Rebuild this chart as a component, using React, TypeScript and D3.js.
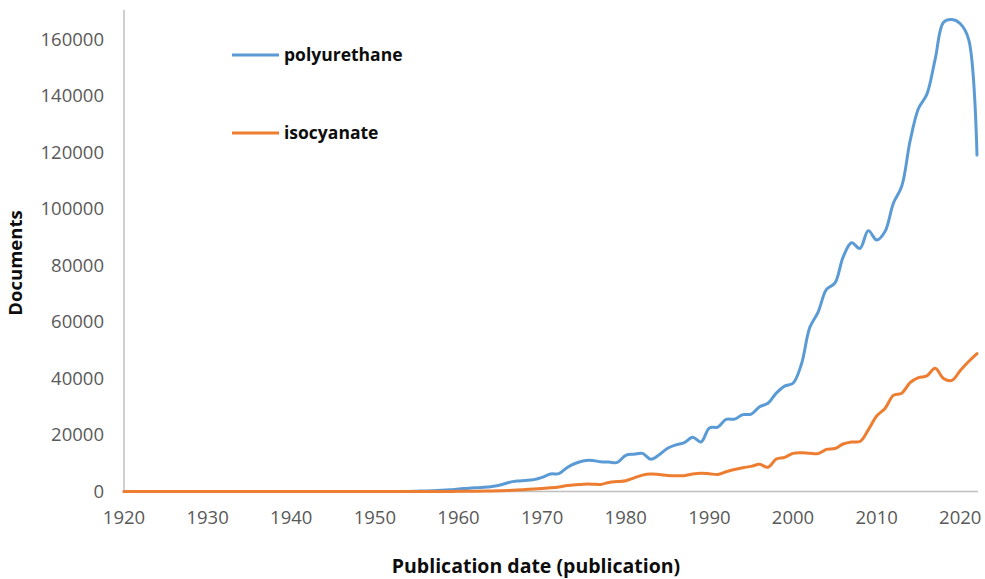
import { useEffect, useRef } from "react";
import * as d3 from "d3";

const years = d3.range(1920, 2023);

// documents per year, 1920..2022
const polyurethane = [
  ...new Array(35).fill(0), // 1920-1954
  100, 200, 300, 400, 600, // 1955-1959
  900, 1100, 1300, 1500, 1800, 2300, 3200, 3700, 3900, 4200, // 1960s
  5000, 6200, 6300, 8500, 10000, 10900, 11000, 10500, 10400, 10300, // 1970s
  12800, 13200, 13500, 11400, 13000, 15300, 16500, 17300, 19200, 17500, // 1980s
  22500, 22800, 25500, 25600, 27200, 27400, 30000, 31200, 34800, 37300, // 1990s
  38300, 45000, 58000, 63500, 71500, 73700, 83000, 88000, 86000, 92300, // 2000s
  89000, 92000, 102000, 108000, 124000, 135500, 140500, 153000, 166000, 167000, // 2010s
  165500, 160000, 119000, // 2020-2022
];

const isocyanate = [
  ...new Array(40).fill(0), // 1920-1959
  50, 80, 100, 150, 200, 250, 350, 500, 700, 900, // 1960s
  1100, 1300, 1600, 2100, 2400, 2600, 2600, 2500, 3200, 3500, // 1970s
  3800, 4800, 5800, 6200, 6000, 5700, 5600, 5600, 6200, 6500, // 1980s
  6300, 6000, 7000, 7800, 8400, 8900, 9600, 8600, 11500, 12100, // 1990s
  13500, 13700, 13500, 13400, 14900, 15200, 16800, 17500, 17700, 21800, // 2000s
  26700, 29400, 34000, 34800, 38500, 40300, 40900, 43600, 40000, 39300, // 2010s
  42800, 46000, 48800, // 2020-2022
];

const seriesNames = ["polyurethane", "isocyanate"];
const seriesColors = ["#5b9bd5", "#ed7d31"];
const xTicks = d3.range(1920, 2021, 10);
const yTicks = d3.range(0, 160001, 20000);

export default function App() {
  const svgRef = useRef<SVGSVGElement | null>(null);

  useEffect(() => {
    if (!svgRef.current) return;
    const svg = d3.select(svgRef.current);
    svg.selectAll("*").remove();

    const font = "'Open Sans', sans-serif";
    const x = d3.scaleLinear().domain([1920, 2022]).range([124, 977]);
    const y = d3.scaleLinear().domain([0, 160000]).range([491.5, 39.3]);

    // axis lines
    svg.append("line")
      .attr("x1", 124).attr("x2", 124)
      .attr("y1", 10).attr("y2", y(0))
      .attr("stroke", "#bfbfbf").attr("stroke-width", 1.5);
    svg.append("line")
      .attr("x1", 124).attr("x2", 978)
      .attr("y1", y(0)).attr("y2", y(0))
      .attr("stroke", "#bfbfbf").attr("stroke-width", 1.5);

    svg.append("g")
      .selectAll("text")
      .data(yTicks)
      .join("text")
      .attr("x", 104)
      .attr("y", (d) => y(d))
      .attr("dy", "0.35em")
      .attr("text-anchor", "end")
      .attr("font-family", font)
      .attr("font-size", 18.5)
      .attr("fill", "#595959")
      .text((d) => d);

    svg.append("g")
      .selectAll("text")
      .data(xTicks)
      .join("text")
      .attr("x", (d) => x(d))
      .attr("y", 518)
      .attr("dy", "0.35em")
      .attr("text-anchor", "middle")
      .attr("font-family", font)
      .attr("font-size", 18.5)
      .attr("fill", "#595959")
      .text((d) => d);

    const line = d3.line<number>()
      .x((_, i) => x(years[i]))
      .y((d) => y(d))
      .curve(d3.curveCatmullRom.alpha(0.5));

    [polyurethane, isocyanate].forEach((values, i) => {
      svg.append("path")
        .attr("d", line(values))
        .attr("fill", "none")
        .attr("stroke", seriesColors[i])
        .attr("stroke-width", 3)
        .attr("stroke-linejoin", "round")
        .attr("stroke-linecap", "round");
    });

    // legend
    const legendY = [55, 133];
    seriesNames.forEach((name, i) => {
      svg.append("line")
        .attr("x1", 232).attr("x2", 279)
        .attr("y1", legendY[i]).attr("y2", legendY[i])
        .attr("stroke", seriesColors[i])
        .attr("stroke-width", 3);
      svg.append("text")
        .attr("x", 284)
        .attr("y", legendY[i])
        .attr("dy", "0.35em")
        .attr("font-family", font)
        .attr("font-weight", "bold")
        .attr("font-size", 17.5)
        .attr("fill", "#0d0d0d")
        .text(name);
    });

    svg.append("text")
      .attr("transform", "translate(16,263) rotate(-90)")
      .attr("dy", "0.35em")
      .attr("text-anchor", "middle")
      .attr("font-family", font)
      .attr("font-weight", "bold")
      .attr("font-size", 18.5)
      .attr("fill", "#0d0d0d")
      .text("Documents");

    svg.append("text")
      .attr("x", 536)
      .attr("y", 566)
      .attr("dy", "0.35em")
      .attr("text-anchor", "middle")
      .attr("font-family", font)
      .attr("font-weight", "bold")
      .attr("font-size", 19.5)
      .attr("fill", "#0d0d0d")
      .text("Publication date (publication)");
  }, []);

  return (
    <svg
      ref={svgRef}
      width={985}
      height={579}
      style={{ position: "absolute", left: 0, top: 0, background: "#fff" }}
    />
  );
}
